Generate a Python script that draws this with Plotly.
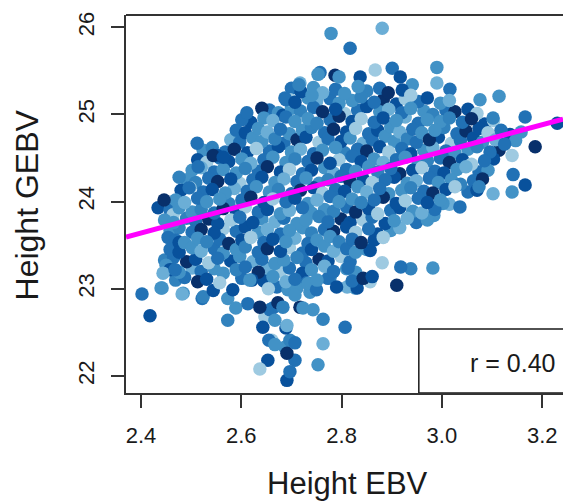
import math
import plotly.graph_objects as go

# ---------------- data ----------------
x_ticks = [2.4, 2.6, 2.8, 3.0, 3.2]
x_tick_text = ["2.4", "2.6", "2.8", "3.0", "3.2"]
y_ticks = [22, 23, 24, 25, 26]
y_tick_text = ["22", "23", "24", "25", "26"]

x_title = "Height EBV"
y_title = "Height GEBV"
r_label = "r = 0.40"

# regression line GEBV = fit_intercept + fit_slope * EBV
fit_intercept = 19.913
fit_slope = 1.553

# points, grouped by horizontal bands of the cloud (EBV, GEBV)
row00 = [(2.700,25.30),(2.719,25.26),(2.744,25.31),(2.762,25.25),(2.788,25.29),(2.806,25.24),(2.833,25.32),(2.850,25.27),(2.876,25.30),(2.893,25.25),(2.921,25.28),(2.938,25.22)]
row01 = [(2.689,25.17),(2.707,25.14),(2.733,25.19),(2.750,25.15),(2.777,25.18),(2.795,25.13),(2.821,25.16),(2.839,25.20),(2.865,25.14),(2.883,25.17),(2.909,25.12),(2.927,25.18),(2.953,25.15),(2.971,25.19),(2.997,25.13),(3.015,25.16)]
row02 = [(2.656,25.05),(2.674,25.02),(2.700,25.07),(2.718,25.04),(2.744,25.08),(2.762,25.03),(2.788,25.06),(2.806,25.01),(2.832,25.05),(2.850,25.09),(2.876,25.03),(2.894,25.06),(2.920,25.02),(2.938,25.07),(2.964,25.04),(2.982,25.00),(3.008,25.05),(3.026,25.03),(3.052,25.06),(3.070,25.01)]
row03 = [(2.601,24.94),(2.619,24.91),(2.645,24.96),(2.663,24.93),(2.689,24.97),(2.707,24.92),(2.733,24.95),(2.751,24.90),(2.777,24.94),(2.795,24.98),(2.821,24.92),(2.839,24.95),(2.865,24.91),(2.883,24.96),(2.909,24.93),(2.927,24.97),(2.953,24.90),(2.971,24.94),(2.997,24.92),(3.015,24.96),(3.041,24.91),(3.059,24.95),(3.085,24.89),(3.103,24.93)]
row04 = [(2.590,24.82),(2.608,24.79),(2.634,24.84),(2.652,24.80),(2.678,24.83),(2.696,24.78),(2.722,24.82),(2.740,24.85),(2.766,24.79),(2.784,24.83),(2.810,24.80),(2.828,24.84),(2.854,24.78),(2.872,24.82),(2.898,24.86),(2.916,24.80),(2.942,24.83),(2.960,24.79),(2.986,24.82),(3.004,24.85),(3.030,24.78),(3.048,24.81),(3.074,24.84),(3.092,24.79),(3.118,24.82),(3.136,24.77),(3.158,24.80)]
row05 = [(2.579,24.71),(2.597,24.68),(2.623,24.73),(2.641,24.69),(2.667,24.72),(2.685,24.67),(2.711,24.71),(2.729,24.74),(2.755,24.68),(2.773,24.72),(2.799,24.69),(2.817,24.73),(2.843,24.67),(2.861,24.71),(2.887,24.75),(2.905,24.69),(2.931,24.72),(2.949,24.68),(2.975,24.71),(2.993,24.74),(3.019,24.67),(3.037,24.70),(3.063,24.73),(3.081,24.68),(3.107,24.71),(3.125,24.66),(3.147,24.70)]
row06 = [(2.524,24.59),(2.542,24.62),(2.568,24.57),(2.586,24.60),(2.612,24.56),(2.630,24.61),(2.656,24.58),(2.674,24.63),(2.700,24.57),(2.718,24.60),(2.744,24.55),(2.762,24.59),(2.788,24.62),(2.806,24.56),(2.832,24.60),(2.850,24.58),(2.876,24.63),(2.894,24.57),(2.920,24.61),(2.938,24.55),(2.964,24.59),(2.982,24.62),(3.008,24.58),(3.026,24.56),(3.052,24.60),(3.070,24.63),(3.096,24.57),(3.114,24.59)]
row07 = [(2.513,24.48),(2.531,24.45),(2.557,24.50),(2.575,24.46),(2.601,24.49),(2.619,24.44),(2.645,24.48),(2.663,24.51),(2.689,24.45),(2.707,24.49),(2.733,24.46),(2.751,24.50),(2.777,24.44),(2.795,24.48),(2.821,24.52),(2.839,24.46),(2.865,24.49),(2.883,24.45),(2.909,24.48),(2.927,24.51),(2.953,24.44),(2.971,24.47),(2.997,24.50),(3.015,24.45),(3.041,24.48),(3.059,24.43),(3.085,24.47),(3.103,24.49)]
row08 = [(2.502,24.36),(2.520,24.39),(2.546,24.34),(2.564,24.37),(2.590,24.33),(2.608,24.38),(2.634,24.35),(2.652,24.40),(2.678,24.34),(2.696,24.37),(2.722,24.32),(2.740,24.36),(2.766,24.39),(2.784,24.33),(2.810,24.37),(2.828,24.35),(2.854,24.40),(2.872,24.34),(2.898,24.38),(2.916,24.32),(2.942,24.36),(2.960,24.39),(2.986,24.35),(3.004,24.33),(3.030,24.37),(3.048,24.40),(3.074,24.34),(3.092,24.36)]
row09 = [(2.491,24.25),(2.509,24.22),(2.535,24.27),(2.553,24.23),(2.579,24.26),(2.597,24.21),(2.623,24.25),(2.641,24.28),(2.667,24.22),(2.685,24.26),(2.711,24.23),(2.729,24.27),(2.755,24.21),(2.773,24.25),(2.799,24.29),(2.817,24.23),(2.843,24.26),(2.861,24.22),(2.887,24.25),(2.905,24.28),(2.931,24.21),(2.949,24.24),(2.975,24.27),(2.993,24.22),(3.019,24.25),(3.037,24.20),(3.063,24.24),(3.081,24.26)]
row10 = [(2.480,24.13),(2.498,24.16),(2.524,24.11),(2.542,24.14),(2.568,24.10),(2.586,24.15),(2.612,24.12),(2.630,24.17),(2.656,24.11),(2.674,24.14),(2.700,24.09),(2.718,24.13),(2.744,24.16),(2.762,24.10),(2.788,24.14),(2.806,24.12),(2.832,24.17),(2.850,24.11),(2.876,24.15),(2.894,24.09),(2.920,24.13),(2.938,24.16),(2.964,24.12),(2.982,24.10),(3.008,24.14),(3.026,24.17),(3.052,24.11),(3.070,24.13)]
row11 = [(2.469,24.02),(2.487,23.99),(2.513,24.04),(2.531,24.00),(2.557,24.03),(2.575,23.98),(2.601,24.02),(2.619,24.05),(2.645,23.99),(2.663,24.03),(2.689,24.00),(2.707,24.04),(2.733,23.98),(2.751,24.02),(2.777,24.06),(2.795,24.00),(2.821,24.03),(2.839,23.99),(2.865,24.02),(2.883,24.05),(2.909,23.98),(2.927,24.01),(2.953,24.04),(2.971,23.99),(2.997,24.02),(3.015,23.97)]
row12 = [(2.458,23.90),(2.476,23.93),(2.502,23.88),(2.520,23.91),(2.546,23.87),(2.564,23.92),(2.590,23.89),(2.608,23.94),(2.634,23.88),(2.652,23.91),(2.678,23.86),(2.696,23.90),(2.722,23.93),(2.740,23.87),(2.766,23.91),(2.784,23.89),(2.810,23.94),(2.828,23.88),(2.854,23.92),(2.872,23.86),(2.898,23.90),(2.916,23.93),(2.942,23.89),(2.960,23.87),(2.986,23.91)]
row13 = [(2.447,23.79),(2.465,23.76),(2.491,23.81),(2.509,23.77),(2.535,23.80),(2.553,23.75),(2.579,23.79),(2.597,23.82),(2.623,23.76),(2.641,23.80),(2.667,23.77),(2.685,23.81),(2.711,23.75),(2.729,23.79),(2.755,23.83),(2.773,23.77),(2.799,23.80),(2.817,23.76),(2.843,23.79),(2.861,23.82),(2.887,23.75),(2.905,23.78),(2.931,23.81),(2.949,23.76),(2.971,23.79)]
row14 = [(2.458,23.67),(2.476,23.70),(2.502,23.65),(2.520,23.68),(2.546,23.64),(2.564,23.69),(2.590,23.66),(2.608,23.71),(2.634,23.65),(2.652,23.68),(2.678,23.63),(2.696,23.67),(2.722,23.70),(2.740,23.64),(2.766,23.68),(2.784,23.66),(2.810,23.71),(2.828,23.65),(2.854,23.69),(2.872,23.63),(2.898,23.67),(2.916,23.70)]
row15 = [(2.469,23.56),(2.487,23.53),(2.513,23.58),(2.531,23.54),(2.557,23.57),(2.575,23.52),(2.601,23.56),(2.619,23.59),(2.645,23.53),(2.663,23.57),(2.689,23.54),(2.707,23.58),(2.733,23.52),(2.751,23.56),(2.777,23.60),(2.795,23.54),(2.821,23.57),(2.839,23.53),(2.865,23.56),(2.883,23.59)]
row16 = [(2.458,23.45),(2.476,23.42),(2.502,23.47),(2.520,23.43),(2.546,23.46),(2.564,23.41),(2.590,23.45),(2.608,23.48),(2.634,23.42),(2.652,23.46),(2.678,23.43),(2.696,23.47),(2.722,23.41),(2.740,23.45),(2.766,23.49),(2.784,23.43),(2.810,23.46),(2.828,23.42),(2.850,23.45)]
row17 = [(2.447,23.33),(2.465,23.36),(2.491,23.31),(2.509,23.34),(2.535,23.30),(2.553,23.35),(2.579,23.32),(2.597,23.37),(2.623,23.31),(2.641,23.34),(2.667,23.29),(2.685,23.33),(2.711,23.36),(2.729,23.30),(2.755,23.34),(2.773,23.32),(2.799,23.37),(2.817,23.31)]
row18 = [(2.458,23.22),(2.476,23.19),(2.502,23.24),(2.520,23.20),(2.546,23.23),(2.564,23.18),(2.590,23.22),(2.608,23.25),(2.634,23.19),(2.652,23.23),(2.678,23.20),(2.696,23.24),(2.722,23.18),(2.740,23.22),(2.766,23.26),(2.784,23.20),(2.810,23.23),(2.828,23.19)]
row19 = [(2.469,23.10),(2.487,23.13),(2.513,23.08),(2.531,23.11),(2.557,23.07),(2.601,23.12),(2.645,23.09),(2.663,23.14),(2.689,23.08),(2.707,23.11),(2.733,23.06),(2.751,23.10),(2.777,23.13),(2.821,23.09),(2.843,23.12)]
row20 = [(2.544,22.98),(2.654,23.00),(2.750,22.99),(2.790,23.02)]

upper_edge = [(2.779,25.93),(2.881,25.99),(2.817,25.76),(2.753,25.46),(2.795,25.43),(2.715,25.34),(2.611,25.02),(2.641,25.07),(2.683,24.99),(2.697,25.17),(2.512,24.67),(2.552,24.53),(2.990,25.54),(2.990,25.36),(3.016,25.29),(3.076,25.17),(3.114,25.21),(3.102,24.96),(3.166,24.97),(3.186,24.63),(3.230,24.90),(3.140,24.53),(3.142,24.31),(3.166,24.19),(3.140,24.11),(3.102,24.09),(3.036,23.94),(2.984,23.84),(3.002,23.98),(3.074,24.17),(2.757,25.48),(2.787,25.45),(2.837,25.43),(2.867,25.51),(2.901,25.53),(2.917,25.43),(2.941,25.34),(2.717,25.36),(2.687,25.19),(2.741,25.22)]
lower_right = [(2.982,23.24),(2.938,23.23),(2.918,23.25),(2.910,23.04),(2.857,23.44),(2.881,23.30),(2.813,23.24),(2.861,23.14),(2.827,23.01),(2.811,23.02),(2.773,23.12),(2.737,22.96),(2.743,22.76),(2.763,22.65),(2.807,22.56),(2.717,22.79),(2.831,23.01),(2.857,23.08)]
lower_tail = [(2.402,22.94),(2.418,22.69),(2.442,23.01),(2.482,22.94),(2.522,22.89),(2.573,22.89),(2.589,22.78),(2.573,22.64),(2.613,22.83),(2.637,22.79),(2.621,23.10),(2.647,22.68),(2.663,22.78),(2.643,22.56),(2.667,22.64),(2.691,22.58),(2.655,22.41),(2.667,22.36),(2.687,22.33),(2.697,22.41),(2.707,22.18),(2.691,22.26),(2.653,22.18),(2.637,22.08),(2.697,22.05),(2.691,21.95),(2.753,22.13),(2.763,22.37),(2.731,23.07),(2.707,22.93),(2.723,22.78),(2.683,22.79),(2.657,22.76),(2.673,22.84),(2.689,22.55),(2.661,22.41),(2.707,22.38),(2.583,22.99),(2.617,23.10),(2.651,23.22),(2.671,23.02),(2.693,22.99),(2.711,23.01)]
left_edge = [(2.476,24.28),(2.496,24.16),(2.446,24.02),(2.434,23.93),(2.464,23.85),(2.454,23.59),(2.476,23.53),(2.450,23.27),(2.444,23.18),(2.468,23.22),(2.440,23.01),(2.484,22.95),(2.524,22.91),(2.514,24.40),(2.544,24.53),(2.564,24.51)]

groups = [row00, row01, row02, row03, row04, row05, row06, row07, row08, row09,
          row10, row11, row12, row13, row14, row15, row16, row17, row18, row19,
          row20, upper_edge, lower_right, lower_tail, left_edge]

# ---------------- styling ----------------
palette = ['#2171B5', '#4292C6', '#08519C', '#6BAED6', '#2171B5', '#08519C',
           '#4292C6', '#9ECAE1', '#2171B5', '#08306B', '#4292C6', '#3182BD']

pts = [p for g in groups for p in g]
n = len(pts)
cols = [palette[(i * 5) % len(palette)] for i in range(n)]

# deterministic interleaving of drawing order (like unsorted data)
k = 97
while math.gcd(k, n) != 1:
    k += 1
order = [(i * k) % n for i in range(n)]
ebv = [pts[j][0] for j in order]
gebv = [pts[j][1] for j in order]
colors = [cols[j] for j in order]

x_range = [2.3701, 3.2415]
y_range = [21.805, 26.141]

FONT = "Liberation Sans, Arial, Helvetica, sans-serif"
INK = "#1a1a1a"
FRAME = "#333333"

fig = go.Figure()
fig.add_trace(go.Scatter(
    x=ebv, y=gebv, mode="markers",
    marker=dict(size=13.5, color=colors, line=dict(width=0), opacity=1),
    hoverinfo="skip", showlegend=False,
))
fig.add_trace(go.Scatter(
    x=x_range, y=[fit_intercept + fit_slope * v for v in x_range],
    mode="lines", line=dict(color="#FF00FF", width=5),
    hoverinfo="skip", showlegend=False,
))

fig.update_layout(
    width=563, height=502,
    margin=dict(l=126, r=0, t=15, b=109),
    paper_bgcolor="white", plot_bgcolor="white",
    font=dict(family=FONT, color=INK),
    xaxis=dict(
        range=x_range, tickvals=x_ticks, ticktext=x_tick_text,
        showgrid=False, zeroline=False, showline=True, linecolor=FRAME, linewidth=2,
        ticks="outside", ticklen=13, tickwidth=2, tickcolor=FRAME,
        tickfont=dict(size=22, family=FONT, color=INK), ticklabelstandoff=9,
    ),
    yaxis=dict(
        range=y_range, tickvals=y_ticks, ticktext=y_tick_text,
        showgrid=False, zeroline=False, showline=True, linecolor=FRAME, linewidth=2,
        ticks="outside", ticklen=13, tickwidth=2, tickcolor=FRAME, tickangle=-90,
        tickfont=dict(size=22, family=FONT, color=INK), ticklabelstandoff=8,
    ),
    shapes=[
        dict(type="line", xref="paper", yref="paper", x0=0, x1=1, y0=1, y1=1,
             line=dict(color=FRAME, width=2)),
        dict(type="rect", xref="x", yref="y", x0=2.954, x1=3.40, y0=y_range[0], y1=22.539,
             line=dict(color=INK, width=1.5), fillcolor="white", layer="above"),
    ],
    annotations=[
        dict(text=r_label, x=3.140, y=22.149, xref="x", yref="y", showarrow=False,
             xanchor="center", yanchor="middle", font=dict(size=25, family=FONT, color=INK)),
        dict(text=x_title, x=0.508, y=-0.2381, xref="paper", yref="paper", showarrow=False,
             xanchor="center", yanchor="middle", font=dict(size=31, family=FONT, color=INK)),
        dict(text=y_title, x=-0.2243, y=0.4987, xref="paper", yref="paper", showarrow=False,
             xanchor="center", yanchor="middle", textangle=-90,
             font=dict(size=32, family=FONT, color=INK)),
    ],
)

fig.write_html("out.html", config={"displayModeBar": False})
